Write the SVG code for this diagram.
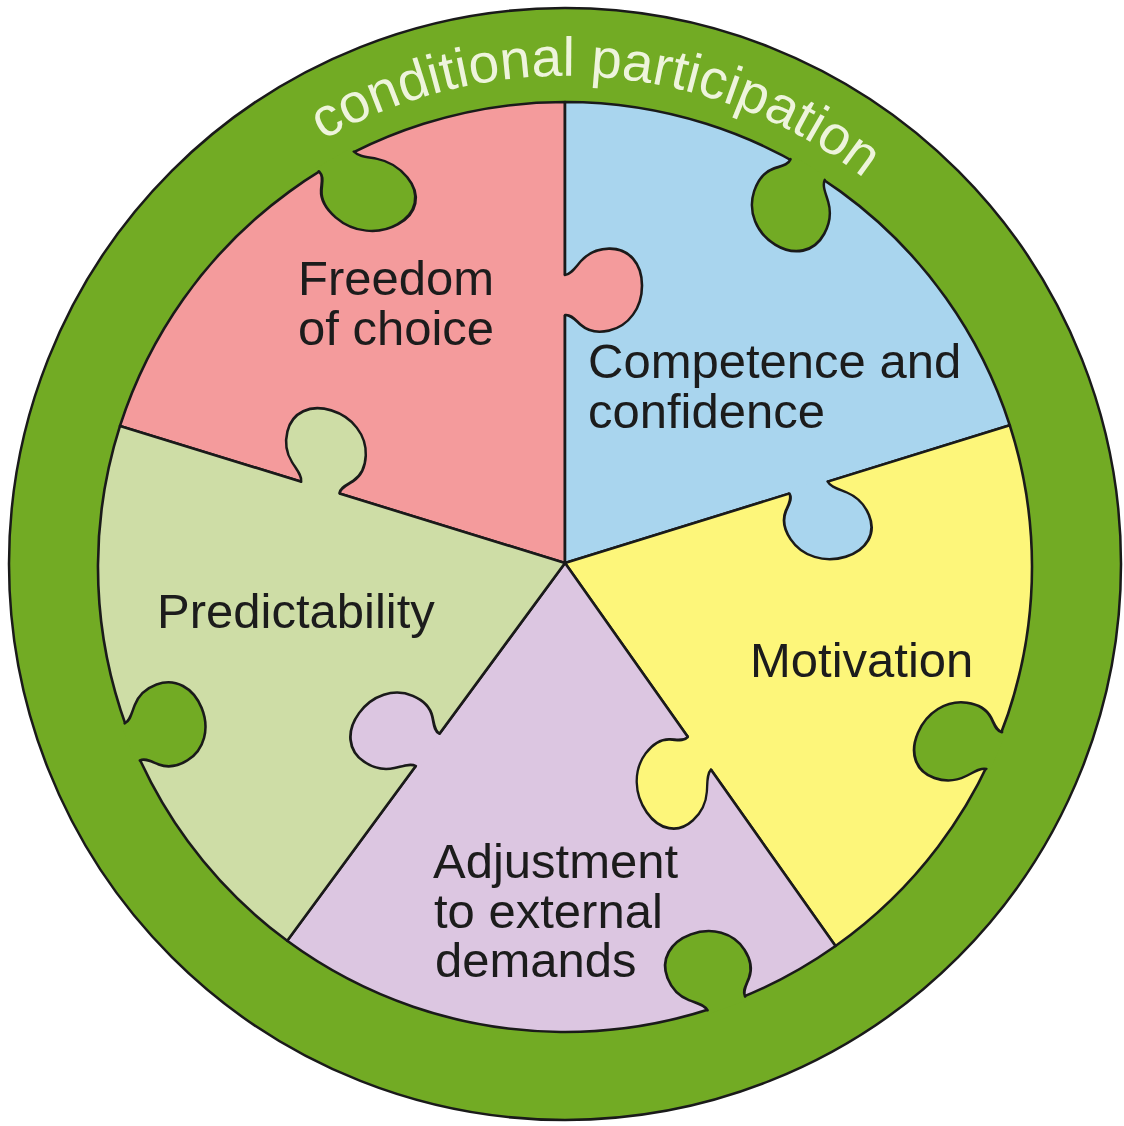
<svg xmlns="http://www.w3.org/2000/svg" width="1124" height="1126" viewBox="0 0 1124 1126">
<style>
  .ring{fill:#72ab24;stroke:#1a1a1a;stroke-width:2.5}
  .pc{stroke:#1a1a1a;stroke-width:2.6;stroke-linejoin:round}
  .kf{stroke:none}
  .ks{fill:none;stroke:#1a1a1a;stroke-width:2.6;stroke-linecap:round;stroke-linejoin:round}
  .lbl{font-family:"Liberation Sans",Arial,sans-serif;font-size:49px;fill:#1c1c1c}
  .arc{font-family:"Liberation Sans",Arial,sans-serif;font-size:55px;fill:#eef4dc}
</style>
<defs>
  <g id="knob">
    <path class="kf" d="M -20,-4 L -20,0 C -20,6 -26,10 -32,16 C -40,24 -42,34 -41,44 C -39,64 -22,77 0,77 C 22,77 39,64 41,44 C 42,34 40,24 32,16 C 26,10 20,6 20,0 L 20,-4 Z"/>
    <path class="ks" d="M -20,0 C -20,6 -26,10 -32,16 C -40,24 -42,34 -41,44 C -39,64 -22,77 0,77 C 22,77 39,64 41,44 C 42,34 40,24 32,16 C 26,10 20,6 20,0"/>
  </g>
  <path id="arcpath" d="M161.3,290.7 A487,487 0 0 1 1003,349.5"/>
</defs>

<g id="ring">
  <circle class="ring" cx="565" cy="564" r="556"/>
  <text class="arc"><textPath href="#arcpath" startOffset="50%" text-anchor="middle">conditional participation</textPath></text>
</g>

<g id="freedom">
  <path class="pc" fill="#f49b9c" d="M565,563 L120,425.9 A467,465 0 0 1 565,102 Z"/>
  <text class="lbl" x="298" y="295">Freedom</text>
  <text class="lbl" x="298" y="345">of choice</text>
</g>
<g id="competence">
  <path class="pc" fill="#a9d5ee" d="M565,563 L565,102 A467,465 0 0 1 1009.8,425.3 Z"/>
  <text class="lbl" x="588" y="378">Competence and</text>
  <text class="lbl" x="588" y="428">confidence</text>
</g>
<g id="motivation">
  <path class="pc" fill="#fdf67a" d="M565,563 L1009.8,425.3 A467,465 0 0 1 835.5,946 Z"/>
  <text class="lbl" x="750" y="677">Motivation</text>
</g>
<g id="adjustment">
  <path class="pc" fill="#dcc6e1" d="M565,563 L835.5,946 A467,465 0 0 1 287.2,940.8 Z"/>
  <text class="lbl" x="433" y="878">Adjustment</text>
  <text class="lbl" x="434" y="928">to external</text>
  <text class="lbl" x="435" y="977">demands</text>
</g>
<g id="predictability">
  <path class="pc" fill="#cedda6" d="M565,563 L287.2,940.8 A467,465 0 0 1 120,425.9 Z"/>
  <text class="lbl" x="157" y="628">Predictability</text>
</g>

<g id="connectors">
  <use href="#knob" fill="#f49b9c" transform="translate(565,295) rotate(-90) skewX(7)"/>
  <use href="#knob" fill="#cedda6" transform="translate(320.3,487.6) rotate(-162.87) skewX(9)"/>
  <use href="#knob" fill="#dcc6e1" transform="translate(427.6,749.9) rotate(126.33) skewX(8)"/>
  <use href="#knob" fill="#a9d5ee" transform="translate(808.6,487.6) rotate(-17.2) skewX(11)"/>
  <use href="#knob" fill="#fdf67a" transform="translate(699.4,753.3) rotate(54.85) skewX(13)"/>
  <use href="#knob" fill="#72ab24" transform="translate(336.5,161.5) rotate(-29.3) skewX(15) scale(1,1.1)"/>
  <use href="#knob" fill="#72ab24" transform="translate(807.6,169.7) rotate(31.3) skewX(8) scale(1,1.05)"/>
  <use href="#knob" fill="#72ab24" transform="translate(994.1,750.6) rotate(113.25) skewX(10)"/>
  <use href="#knob" fill="#72ab24" transform="translate(726.3,1003.4) rotate(159.8) skewX(7)"/>
  <use href="#knob" fill="#72ab24" transform="translate(132.3,741.9) rotate(-112.1) skewX(4)"/>
</g>
</svg>
